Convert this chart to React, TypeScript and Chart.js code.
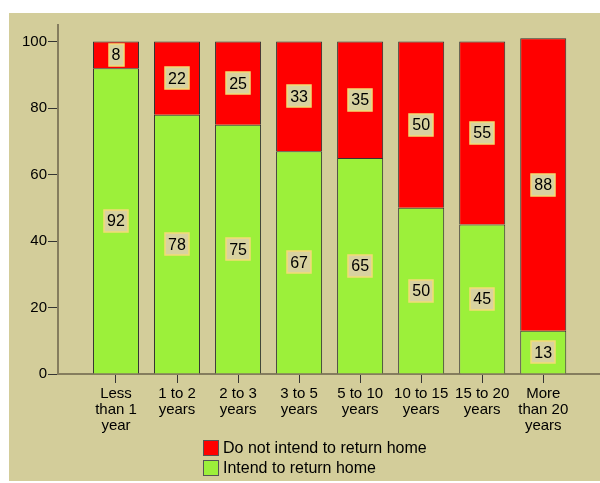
import React, { useEffect, useRef } from "react";
import { Chart, registerables } from "chart.js";

Chart.register(...registerables);

const categories: string[][] = [
  ["Less", "than 1", "year"],
  ["1 to 2", "years"],
  ["2 to 3", "years"],
  ["3 to 5", "years"],
  ["5 to 10", "years"],
  ["10 to 15", "years"],
  ["15 to 20", "years"],
  ["More", "than 20", "years"],
];
const intendValues = [92, 78, 75, 67, 65, 50, 45, 13];
const notIntendValues = [8, 22, 25, 33, 35, 50, 55, 88];
const seriesNames = ["Intend to return home", "Do not intend to return home"];
const seriesColors = ["#9cf03a", "#ff0000"];
const yTicks = [0, 20, 40, 60, 80, 100];

const FONT = "'Liberation Sans', Arial, sans-serif";
const TAN = "#d3cd9a";

const backgroundPlugin = {
  id: "bgPanel",
  beforeDraw(chart: any) {
    const ctx = chart.ctx;
    ctx.save();
    ctx.fillStyle = "#ffffff";
    ctx.fillRect(0, 0, chart.width, chart.height);
    ctx.fillStyle = TAN;
    ctx.fillRect(9, 13, chart.width - 9, 468);
    ctx.restore();
  },
};

const valueLabelPlugin = {
  id: "valueLabels",
  afterDatasetsDraw(chart: any) {
    const ctx = chart.ctx;
    ctx.save();
    ctx.font = `16px ${FONT}`;
    ctx.textAlign = "center";
    ctx.textBaseline = "middle";
    chart.data.datasets.forEach((ds: any, di: number) => {
      const meta = chart.getDatasetMeta(di);
      meta.data.forEach((el: any, i: number) => {
        const v = ds.data[i].y;
        const txt = String(v);
        const cx = el.x;
        const cy = (el.y + el.base) / 2;
        const w = ctx.measureText(txt).width + 6;
        const h = 22;
        ctx.fillStyle = "#d8d2a0";
        ctx.fillRect(Math.round(cx - w / 2), Math.round(cy - h / 2), Math.round(w), h);
        ctx.strokeStyle = "#f2dc74";
        ctx.lineWidth = 1.5;
        ctx.strokeRect(Math.round(cx - w / 2), Math.round(cy - h / 2), Math.round(w), h);
        ctx.fillStyle = "#000";
        ctx.fillText(txt, cx, cy + 1);
      });
    });
    ctx.restore();
  },
};

const legendPlugin = {
  id: "customLegend",
  afterDraw(chart: any) {
    const ctx = chart.ctx;
    ctx.save();
    const items = chart.data.datasets.slice().reverse();
    items.forEach((ds: any, i: number) => {
      const x = 203;
      const y = 440 + i * 20;
      ctx.fillStyle = ds.backgroundColor;
      ctx.fillRect(x, y, 16, 16);
      ctx.strokeStyle = "#555";
      ctx.lineWidth = 1;
      ctx.strokeRect(x + 0.5, y + 0.5, 15, 15);
      ctx.fillStyle = "#000";
      ctx.font = `16px ${FONT}`;
      ctx.textAlign = "left";
      ctx.textBaseline = "middle";
      ctx.fillText(ds.label, 223, y + 9);
    });
    ctx.restore();
  },
};

export default function App() {
  const ref = useRef<HTMLCanvasElement | null>(null);
  useEffect(() => {
    if (!ref.current) return;
    const chart = new Chart(ref.current, {
      type: "bar",
      data: {
        datasets: [
          {
            label: seriesNames[0],
            data: intendValues.map((v, i) => ({ x: i, y: v })),
            backgroundColor: seriesColors[0],
            borderColor: "#333",
            borderWidth: 1,
            barPercentage: 0.754,
            categoryPercentage: 1,
          },
          {
            label: seriesNames[1],
            data: notIntendValues.map((v, i) => ({ x: i, y: v })),
            backgroundColor: seriesColors[1],
            borderColor: "#333",
            borderWidth: 1,
            barPercentage: 0.754,
            categoryPercentage: 1,
          },
        ],
      },
      options: {
        responsive: false,
        animation: false,
        devicePixelRatio: 1,
        layout: { padding: { top: 25, left: 0, right: 0, bottom: 0 } },
        plugins: { legend: { display: false }, tooltip: { enabled: false } },
        scales: {
          x: {
            type: "linear",
            stacked: true,
            offset: false,
            min: -0.95,
            max: 7.93,
            afterBuildTicks: (s: any) => {
              s.ticks = categories.map((_, i) => ({ value: i }));
            },
            afterFit: (s: any) => {
              s.height = 109;
            },
            grid: {
              offset: false,
              drawOnChartArea: false,
              drawTicks: true,
              tickLength: 9,
              color: "#333",
              tickWidth: 1,
            },
            border: { display: true, color: "#857d5e", width: 2 },
            ticks: {
              callback: (v: any) => categories[v] ?? "",
              font: { family: FONT, size: 15, lineHeight: 1.05 },
              color: "#000",
              padding: 3,
              maxRotation: 0,
              autoSkip: false,
            },
          },
          y: {
            stacked: true,
            min: 0,
            max: 105,
            afterBuildTicks: (s: any) => {
              s.ticks = yTicks.map((v) => ({ value: v }));
            },
            afterFit: (s: any) => {
              s.width = 58;
            },
            grid: {
              drawOnChartArea: false,
              drawTicks: true,
              tickLength: 10,
              color: "#333",
              tickWidth: 1,
            },
            border: { display: true, color: "#857d5e", width: 2 },
            ticks: {
              font: { family: FONT, size: 15 },
              color: "#000",
              padding: 1,
            },
          },
        },
      },
      plugins: [backgroundPlugin, valueLabelPlugin, legendPlugin],
    } as any);
    return () => chart.destroy();
  }, []);
  return (
    <div style={{ position: "absolute", left: 0, top: 0, width: 600, height: 483 }}>
      <canvas ref={ref} width={600} height={483} style={{ display: "block", width: 600, height: 483 }} />
    </div>
  );
}
